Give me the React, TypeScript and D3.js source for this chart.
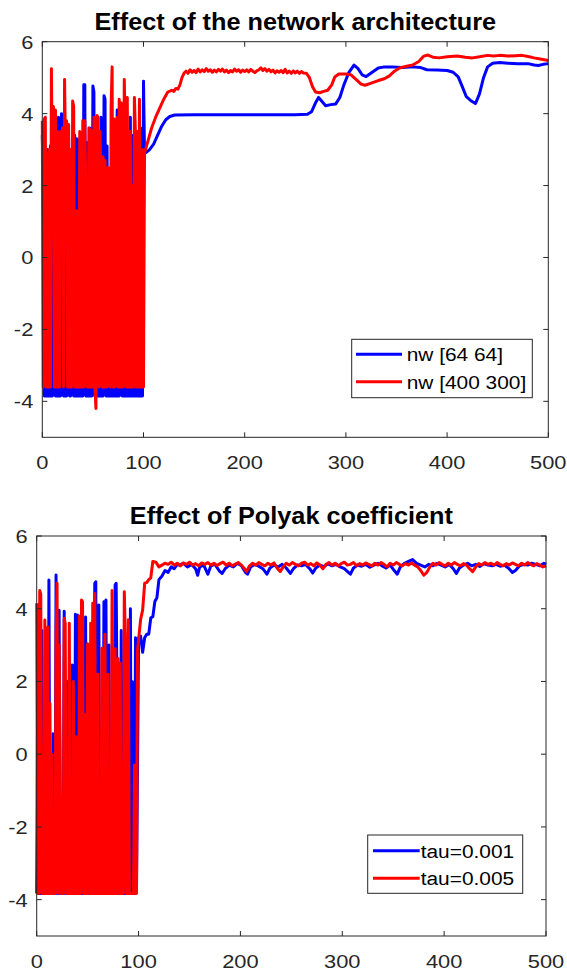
import React from 'react';
import * as d3 from 'd3';

const W = 567;
const H = 974;

const xTicks = [0, 100, 200, 300, 400, 500];
const yTicks = [-4, -2, 0, 2, 4, 6];
const xDomain = [0, 500];
const yDomain = [-5, 6];

const titles = ['Effect of the network architecture', 'Effect of Polyak coefficient'];
const topLegend = ['nw [64 64]', 'nw [400 300]'];
const bottomLegend = ['tau=0.001', 'tau=0.005'];

// ---- top panel: episodes 0..101 (one value per episode)
const topBlueOsc = [
  3.4, 2.0, -3.85, 0.8, -3.85, 3.0, -3.85, -3.85, 3.1, -3.85,
  -3.85, 2.0, 3.4, -3.85, 3.6, -3.85, 3.9, -3.85, -3.85, 4.0,
  3.8, -3.85, -3.85, 3.3, -3.85, 3.5, 3.3, -3.85, -3.85, 2.0,
  3.2, -3.85, 3.4, -3.85, 3.3, -3.85, -3.85, 3.3, -3.85, 2.2,
  -3.85, 4.8, 4.8, -3.85, -3.85, 3.2, -3.85, 3.6, -3.85, -3.85,
  4.77, 4.6, -3.85, 3.4, -3.85, -3.85, 3.0, -3.85, 3.9, -3.85,
  -3.85, 4.5, 4.4, -3.85, 3.1, -3.85, -3.85, 2.0, -3.85, 3.8,
  -3.85, -3.85, 3.5, -3.85, 4.1, -3.85, -3.85, 4.1, 4.0, -3.85,
  3.2, -3.85, -3.85, 3.6, -3.85, 3.3, -3.85, 3.9, -3.85, -3.85,
  3.4, -3.85, 3.0, -3.85, -3.85, 3.5, -3.85, 3.6, -3.85, -3.85,
  4.9, 2.9,
];
const topRedOsc = [
  3.8, -3.6, 3.85, 3.9, -3.6, 2.9, -3.6, 3.0, -3.6, 5.25,
  1.9, 4.2, -3.6, 4.1, -3.6, 3.5, -3.6, -3.6, 3.5, 0.2,
  3.6, -3.6, 4.95, 2.8, 3.8, -3.6, 3.7, -3.6, 3.0, -3.6,
  4.35, 4.2, -3.6, -3.6, 1.3, -3.6, -3.6, 3.5, -3.6, -3.6,
  3.8, -3.6, 3.8, 1.9, -3.6, -3.6, 3.6, -3.6, 3.55, -3.6,
  -3.6, 3.9, -3.6, -4.2, 3.95, 3.9, -3.6, 3.5, 2.0, -3.6,
  2.8, -3.6, 2.7, -3.6, -3.6, 2.5, -1.5, -3.6, 4.2, 5.3,
  -3.6, 3.85, -3.6, 2.6, 3.9, -3.6, 4.4, -3.6, 4.3, -3.6,
  -3.6, 4.95, 3.6, -3.6, 4.45, -3.6, -3.6, 3.5, -3.6, 2.0,
  -3.6, 4.45, 3.5, -3.6, 3.5, -3.6, 4.4, -3.6, -3.6, 3.0,
  -3.6, 2.9,
];
const topBlueTail: [number, number][] = [
  [103, 2.93], [106, 3.0], [110, 3.15], [114, 3.4], [118, 3.65], [122, 3.83], [126, 3.92],
  [131, 3.96], [150, 3.97], [200, 3.97], [250, 3.97], [262, 3.98], [266, 4.05], [270, 4.3],
  [273, 4.45], [276, 4.35], [280, 4.22], [285, 4.25], [290, 4.27], [294, 4.45], [298, 4.8],
  [303, 5.15], [308, 5.35], [312, 5.25], [316, 5.08], [320, 5.03], [326, 5.15], [332, 5.27],
  [338, 5.3], [346, 5.3], [356, 5.28], [366, 5.3], [374, 5.28], [380, 5.22], [390, 5.21],
  [400, 5.2], [406, 5.15], [411, 5.02], [415, 4.75], [419, 4.47], [424, 4.35], [428, 4.28],
  [432, 4.55], [436, 5.0], [440, 5.3], [445, 5.4], [452, 5.42], [460, 5.4], [470, 5.39],
  [480, 5.39], [486, 5.35], [490, 5.34], [495, 5.37], [500, 5.39],
];
const topRedTail: [number, number][] = [
  [105, 3.3], [108, 3.6], [112, 3.9], [116, 4.15], [120, 4.4], [124, 4.6], [128, 4.65],
  [130, 4.62], [132, 4.7], [134, 4.68], [136, 4.8], [138, 5.0], [140, 5.12], [142, 5.18],
  [144, 5.12], [146, 5.22], [148, 5.15], [150, 5.2], [152, 5.14], [154, 5.24], [156, 5.16],
  [158, 5.22], [160, 5.17], [162, 5.25], [164, 5.18], [166, 5.22], [168, 5.15], [170, 5.21],
  [172, 5.16], [174, 5.23], [176, 5.18], [178, 5.24], [180, 5.16], [182, 5.21], [184, 5.14],
  [186, 5.2], [188, 5.16], [190, 5.24], [192, 5.18], [194, 5.22], [196, 5.15], [198, 5.21],
  [200, 5.17], [202, 5.22], [204, 5.16], [206, 5.23], [208, 5.18], [210, 5.14], [212, 5.19],
  [214, 5.22], [216, 5.27], [218, 5.2], [220, 5.25], [222, 5.18], [224, 5.23], [226, 5.16],
  [228, 5.21], [230, 5.13], [232, 5.19], [234, 5.15], [236, 5.2], [238, 5.14], [240, 5.23],
  [242, 5.13], [244, 5.18], [246, 5.12], [248, 5.19], [250, 5.13], [252, 5.18], [254, 5.12],
  [256, 5.17], [258, 5.13], [261, 5.12], [264, 5.0], [267, 4.75], [270, 4.6], [274, 4.58],
  [278, 4.62], [282, 4.65], [286, 4.8], [289, 5.02], [293, 5.1], [300, 5.1], [305, 5.08],
  [310, 4.95], [315, 4.82], [319, 4.79], [325, 4.85], [332, 4.92], [338, 4.97], [343, 5.05],
  [348, 5.18], [353, 5.27], [360, 5.32], [366, 5.35], [372, 5.45], [377, 5.6], [381, 5.63],
  [386, 5.57], [392, 5.55], [400, 5.58], [410, 5.6], [418, 5.57], [425, 5.55], [432, 5.58],
  [440, 5.62], [446, 5.6], [452, 5.62], [460, 5.6], [468, 5.61], [474, 5.62], [480, 5.59],
  [486, 5.55], [492, 5.52], [500, 5.48],
];

// ---- bottom panel: episodes 0..100 / 0..99
const botBlueOsc = [
  -3.83, 2.0, -3.83, -3.83, -3.83, 3.4, -3.83, -3.6, -3.83, 1.0,
  -3.83, -3.83, 4.79, -3.83, -3.83, -3.83, 0.56, -3.83, -3.83, 4.93,
  -3.83, -3.83, 3.96, -3.83, -3.6, -3.83, -3.83, 3.93, -3.83, -3.83,
  2.0, -3.83, -3.83, -3.83, -3.83, 2.45, -3.83, -3.83, 3.85, -3.83,
  3.83, -3.83, -3.83, 1.5, -3.83, -3.83, -3.83, -3.83, 3.77, -3.83,
  -3.83, 2.6, -3.83, -3.83, -3.83, -3.83, -3.83, 4.7, 4.74, -3.83,
  -3.83, 4.1, -3.83, -3.83, -3.83, -3.83, 4.19, -3.83, 4.24, -3.83,
  -3.83, 3.0, -3.83, -3.83, -3.83, -3.83, -3.83, 4.65, 4.7, 1.15,
  -3.83, -3.83, -3.83, 3.4, -3.83, -3.6, -3.83, -3.83, -3.83, -3.83,
  -3.83, -3.83, 4.0, -3.83, 1.99, -3.83, -3.83, 3.2, -3.6, -0.3,
  3.2,
];
const botRedOsc = [
  4.15, -3.83, -3.83, 4.5, 4.4, -3.83, -3.83, -3.83, 3.69, -3.83,
  -3.83, 3.5, -3.83, 1.4, -3.83, 0.0, -3.83, -3.83, -3.83, 3.2,
  4.7, -3.83, 3.0, 0.16, -3.83, -3.83, -3.83, 3.74, 3.6, -3.83,
  -3.83, -3.83, 3.6, -3.83, -3.83, -3.83, 2.0, -3.83, -3.83, 0.48,
  -3.83, -3.83, 3.8, -3.83, 4.24, 4.19, -3.83, 1.1, -3.83, -3.83,
  3.04, -3.83, -3.83, 3.6, -3.83, 4.15, -3.83, 4.42, -3.83, -3.83,
  2.2, -3.83, -3.83, -3.83, 2.91, -3.83, -3.83, 3.3, -3.83, -3.83,
  2.2, -3.83, -3.83, -3.83, 4.5, -3.83, -3.83, 2.9, -3.83, -3.83,
  2.63, -3.83, 2.5, -3.83, -3.83, -3.83, 4.47, 3.2, -3.83, -3.83,
  3.7, -3.83, -3.83, -3.83, -3.83, -3.83, -0.3, -3.83, -3.83, 2.86,
];
const botBlueTail: [number, number][] = [
  [102, 3.25], [104, 2.8], [106, 3.2], [108, 3.3], [110, 3.3], [112, 3.75], [114, 3.78],
  [116, 4.2], [118, 4.3], [120, 4.8], [123, 4.9], [126, 5.05], [129, 5.0], [132, 5.15],
  [135, 5.1], [138, 5.22], [140, 5.2], [144, 5.25], [148, 5.15], [152, 5.22], [156, 5.1],
  [158, 4.92], [160, 5.15], [164, 5.2], [168, 4.95], [171, 5.18], [175, 5.22], [179, 5.05],
  [182, 4.97], [185, 5.1], [189, 5.2], [193, 5.15], [197, 5.25], [201, 5.18], [205, 5.0],
  [207, 4.95], [210, 5.15], [214, 5.22], [218, 5.17], [222, 5.1], [226, 4.95], [229, 5.12],
  [233, 5.2], [237, 5.15], [241, 5.22], [245, 5.12], [249, 4.97], [252, 5.1], [256, 5.2],
  [260, 5.18], [264, 5.22], [268, 5.1], [271, 4.98], [274, 5.12], [278, 5.2], [282, 5.16],
  [286, 5.23], [290, 5.18], [294, 5.22], [298, 5.15], [302, 5.1], [306, 5.0], [308, 4.95],
  [311, 5.12], [315, 5.2], [319, 5.17], [323, 5.22], [327, 5.14], [331, 5.2], [335, 5.25],
  [339, 5.18], [343, 5.12], [347, 5.2], [351, 5.05], [354, 4.95], [357, 5.15], [361, 5.25],
  [365, 5.3], [369, 5.35], [373, 5.25], [377, 5.2], [381, 5.15], [385, 5.22], [389, 5.18],
  [393, 5.25], [397, 5.2], [401, 5.15], [405, 5.22], [409, 5.1], [412, 4.97], [415, 5.12],
  [419, 5.2], [423, 5.25], [427, 5.18], [431, 5.22], [435, 5.16], [439, 5.24], [443, 5.2],
  [447, 5.18], [451, 5.22], [455, 5.17], [459, 5.2], [463, 5.12], [467, 5.0], [470, 5.05],
  [474, 5.18], [478, 5.22], [482, 5.2], [486, 5.25], [490, 5.22], [494, 5.18], [498, 5.25],
  [500, 5.22],
];
const botRedTail: [number, number][] = [
  [102, 3.7], [104, 3.96], [106, 4.7], [108, 4.72], [110, 4.8], [112, 4.85], [114, 5.3],
  [117, 5.28], [120, 5.15], [123, 5.2], [126, 5.25], [129, 5.22], [132, 5.28], [135, 5.2],
  [138, 5.25], [141, 5.18], [144, 5.26], [147, 5.22], [150, 5.28], [153, 5.2], [156, 5.24],
  [159, 5.18], [162, 5.26], [165, 5.22], [168, 5.27], [171, 5.2], [174, 5.25], [177, 5.19],
  [180, 5.24], [183, 5.28], [186, 5.2], [189, 5.25], [192, 5.18], [195, 5.23], [198, 5.27],
  [201, 5.2], [204, 5.1], [206, 5.02], [209, 5.18], [212, 5.25], [215, 5.2], [218, 5.27],
  [221, 5.22], [224, 5.18], [227, 5.25], [230, 5.2], [233, 5.26], [236, 5.12], [239, 5.02],
  [242, 5.15], [245, 5.25], [248, 5.2], [251, 5.27], [254, 5.22], [257, 5.18], [260, 5.25],
  [263, 5.28], [266, 5.2], [269, 5.24], [272, 5.18], [275, 5.26], [278, 5.2], [281, 5.1],
  [284, 5.22], [287, 5.27], [290, 5.2], [293, 5.25], [296, 5.18], [299, 5.24], [302, 5.28],
  [305, 5.2], [308, 5.22], [311, 5.27], [314, 5.18], [317, 5.24], [320, 5.2], [323, 5.26],
  [326, 5.22], [329, 5.18], [332, 5.25], [335, 5.2], [338, 5.27], [341, 5.22], [344, 5.15],
  [347, 5.25], [350, 5.2], [353, 5.27], [356, 5.22], [359, 5.18], [362, 5.24], [365, 5.2],
  [368, 5.26], [371, 5.2], [374, 5.15], [377, 5.05], [380, 4.92], [383, 5.0], [386, 5.15],
  [389, 5.25], [392, 5.2], [395, 5.27], [398, 5.22], [401, 5.18], [404, 5.25], [407, 5.2],
  [410, 5.27], [413, 5.22], [416, 5.18], [419, 5.24], [422, 5.2], [425, 5.1], [428, 5.02],
  [431, 5.15], [434, 5.24], [437, 5.2], [440, 5.27], [443, 5.22], [446, 5.25], [449, 5.2],
  [452, 5.27], [455, 5.22], [458, 5.18], [461, 5.24], [464, 5.2], [467, 5.26], [470, 5.22],
  [473, 5.18], [476, 5.25], [479, 5.2], [482, 5.27], [485, 5.22], [488, 5.18], [491, 5.24],
  [494, 5.2], [497, 5.15], [500, 5.18],
];

const toSeries = (osc: number[], tail: [number, number][]): [number, number][] => [
  ...osc.map((v, i) => [i, v] as [number, number]),
  ...tail,
];

const BLUE = '#0000ff';
const RED = '#ff0000';
const AX = '#262626';
const FONT = '"Liberation Sans", Arial, Helvetica, sans-serif';

type Box = { left: number; right: number; top: number; bottom: number };

function SText(props: {
  x: number; y: number; sx: number; size: number; anchor?: string; weight?: string; fill?: string; children: React.ReactNode;
}) {
  const { x, y, sx, size, anchor = 'start', weight = 'normal', fill = AX, children } = props;
  return (
    <g transform={`translate(${x},${y}) scale(${sx},1)`}>
      <text textAnchor={anchor} fontSize={size} fontWeight={weight} fill={fill} fontFamily={FONT}>
        {children}
      </text>
    </g>
  );
}

function Panel(props: {
  box: Box; title: string; titleY: number; blue: [number, number][]; red: [number, number][];
  legend: string[]; leg: { x0: number; x1: number; y0: number; y1: number; l0: number; l1: number; r0: number; r1: number; tx: number };
}) {
  const { box, title, titleY, blue, red, legend, leg } = props;
  const x = d3.scaleLinear().domain(xDomain).range([box.left, box.right]);
  const y = d3.scaleLinear().domain(yDomain).range([box.bottom, box.top]);
  const line = d3.line<[number, number]>().x((d) => x(d[0])).y((d) => y(d[1]));
  const tl = 5;
  return (
    <g>
      <path d={line(blue) || ''} fill="none" stroke={BLUE} strokeWidth={3} strokeLinejoin="round" />
      <path d={line(red) || ''} fill="none" stroke={RED} strokeWidth={3} strokeLinejoin="round" />
      <rect x={box.left} y={box.top} width={box.right - box.left} height={box.bottom - box.top} fill="none" stroke={AX} strokeWidth={1} />
      {xTicks.map((t) => (
        <g key={'x' + t}>
          <line x1={x(t)} x2={x(t)} y1={box.bottom} y2={box.bottom - tl} stroke={AX} />
          <line x1={x(t)} x2={x(t)} y1={box.top} y2={box.top + tl} stroke={AX} />
          <SText x={x(t)} y={box.bottom + 32} sx={1.15} size={19} anchor="middle">{t}</SText>
        </g>
      ))}
      {yTicks.map((t) => (
        <g key={'y' + t}>
          <line x1={box.left} x2={box.left + tl} y1={y(t)} y2={y(t)} stroke={AX} />
          <line x1={box.right} x2={box.right - tl} y1={y(t)} y2={y(t)} stroke={AX} />
          <SText x={box.left - 9} y={y(t) + 7} sx={1.15} size={19} anchor="end">{t}</SText>
        </g>
      ))}
      <SText x={(box.left + box.right) / 2} y={titleY} sx={1.1} size={23} anchor="middle" weight="bold" fill="#000">{title}</SText>
      <rect x={leg.x0} y={leg.y0} width={leg.x1 - leg.x0} height={leg.y1 - leg.y0} fill="#fff" stroke={AX} strokeWidth={1} />
      <line x1={leg.l0} x2={leg.l1} y1={leg.r0} y2={leg.r0} stroke={BLUE} strokeWidth={3} />
      <line x1={leg.l0} x2={leg.l1} y1={leg.r1} y2={leg.r1} stroke={RED} strokeWidth={3} />
      <SText x={leg.tx} y={leg.r0 + 7} sx={1.16} size={18} fill="#000">{legend[0]}</SText>
      <SText x={leg.tx} y={leg.r1 + 7} sx={1.16} size={18} fill="#000">{legend[1]}</SText>
    </g>
  );
}

export default function App() {
  const topBox: Box = { left: 42.3, right: 548.3, top: 41.7, bottom: 437.3 };
  const botBox: Box = { left: 36.7, right: 546, top: 536, bottom: 936 };
  return (
    <svg width={W} height={H} style={{ position: 'absolute', left: 0, top: 0, background: '#fff' }}>
      <rect x={0} y={0} width={W} height={H} fill="#fff" />
      <Panel
        box={topBox}
        title={titles[0]}
        titleY={30}
        blue={toSeries(topBlueOsc, topBlueTail)}
        red={toSeries(topRedOsc, topRedTail)}
        legend={topLegend}
        leg={{ x0: 351.7, x1: 532.3, y0: 339.3, y1: 397.7, l0: 356, l1: 402, r0: 354.3, r1: 381.7, tx: 406.7 }}
      />
      <Panel
        box={botBox}
        title={titles[1]}
        titleY={524}
        blue={toSeries(botBlueOsc, botBlueTail)}
        red={toSeries(botRedOsc, botRedTail)}
        legend={bottomLegend}
        leg={{ x0: 367.7, x1: 522.7, y0: 835, y1: 893.3, l0: 373, l1: 419.7, r0: 850.7, r1: 878.3, tx: 420.7 }}
      />
    </svg>
  );
}
